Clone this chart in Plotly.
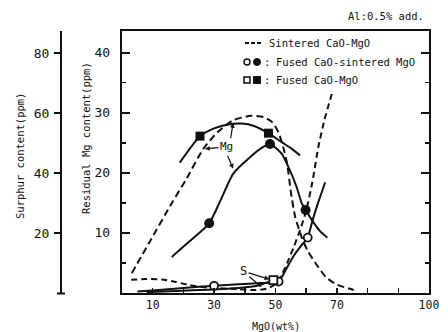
import plotly.graph_objects as go

# ---------------- data ----------------
# Residual Mg (left inner axis, ppm) vs MgO (wt%)
sint_mg_x = [3.2, 9, 16.5, 21, 26.5, 31, 36, 42, 46, 49, 51, 52.5, 53.8, 55, 56.4, 58.5, 60.5, 63, 66.5, 70, 75.5]
sint_mg_y = [3.3, 8.5, 15.2, 19.0, 24.0, 26.7, 28.7, 29.5, 29.3, 28.4, 26.7, 24.3, 21.5, 16.8, 12.7, 9.3, 7.0, 5.0, 2.6, 1.4, 0.5]

fm_mg_x = [18.8, 25.4, 30, 35, 39, 43, 47.7, 52, 55, 58]
fm_mg_y = [21.7, 26.1, 27.4, 28.1, 28.2, 27.8, 26.6, 25.1, 24.1, 22.9]
fm_mg_pts_x = [25.4, 47.7]
fm_mg_pts_y = [26.1, 26.6]

fs_mg_x = [16.2, 22, 28.4, 31.9, 36.3, 41.7, 46, 48.2, 52, 54.7, 56.9, 58.5, 59.8, 62.3, 64.5, 66.9]
fs_mg_y = [6.0, 8.6, 11.6, 15.2, 19.9, 22.6, 24.3, 24.8, 23.2, 20.4, 17.6, 15.0, 13.8, 11.8, 10.3, 9.2]
fs_mg_pts_x = [28.4, 48.2, 59.8]
fs_mg_pts_y = [11.6, 24.8, 13.8]

# Sulphur (outer axis, ppm)
sint_s_x = [3, 8, 13, 17.5, 22, 28, 33, 38, 43, 47, 50, 52, 54, 56, 58, 60, 62, 64, 66, 68.5]
sint_s_y = [4.4, 4.7, 4.5, 3.7, 2.6, 1.8, 1.5, 1.3, 1.0, 1.4, 3.0, 6.0, 10.5, 15.5, 21.0, 27.5, 37.0, 49.0, 58.0, 67.0]

fs_s_x = [5, 12, 20, 30, 38, 45, 51, 53.5, 56, 58.5, 60.5, 62, 64, 66.2]
fs_s_y = [0.5, 1.0, 1.7, 2.4, 2.9, 3.3, 3.8, 8.0, 12.5, 16.0, 18.5, 24.0, 30.5, 37.0]
fs_s_pts_x = [30, 51, 60.5]
fs_s_pts_y = [2.4, 3.8, 18.5]

fm_s_x = [8, 18, 28, 38, 44, 49.3]
fm_s_y = [0.3, 0.7, 1.1, 1.7, 2.4, 4.3]
fm_s_pts_x = [49.3]
fm_s_pts_y = [4.3]

x_ticks = [10, 30, 50, 70, 100]
x_minor = [20, 40, 60, 80, 90]
mg_ticks = [10, 20, 30, 40]
mg_minor = [5, 15, 25, 35]
s_ticks = [20, 40, 60, 80]

legend_rows = ["Sintered CaO-MgO", "Fused CaO-sintered MgO", "Fused CaO-MgO"]

# ---------------- layout helpers ----------------
W, H = 448, 332
L_PX, R_PX, T_PX, B_PX = 122, 429, 31, 293
FONT = "DejaVu Sans Mono"
INK = "#111111"


def pxx(p):
    return p / W


def pxy(p):
    return (B_PX - p) / (B_PX - T_PX)


fig = go.Figure()

DASH = "7px,4px"
line_kw = dict(color=INK, width=2, shape="spline", smoothing=0.6)

fig.add_trace(go.Scatter(x=sint_mg_x, y=sint_mg_y, mode="lines",
                         line=dict(**line_kw, dash=DASH), hoverinfo="skip"))
fig.add_trace(go.Scatter(x=fm_mg_x, y=fm_mg_y, mode="lines",
                         line=dict(**line_kw), hoverinfo="skip"))
fig.add_trace(go.Scatter(x=fs_mg_x, y=fs_mg_y, mode="lines",
                         line=dict(**line_kw), hoverinfo="skip"))
fig.add_trace(go.Scatter(x=sint_s_x, y=sint_s_y, mode="lines", yaxis="y2",
                         line=dict(**line_kw, dash="6px,4px"), hoverinfo="skip"))
fig.add_trace(go.Scatter(x=fs_s_x, y=fs_s_y, mode="lines", yaxis="y2",
                         line=dict(**line_kw), hoverinfo="skip"))
fig.add_trace(go.Scatter(x=fm_s_x, y=fm_s_y, mode="lines", yaxis="y2",
                         line=dict(**line_kw), hoverinfo="skip"))

# markers
fig.add_trace(go.Scatter(x=fm_mg_pts_x, y=fm_mg_pts_y, mode="markers",
                         marker=dict(symbol="square", size=9, color=INK), hoverinfo="skip"))
fig.add_trace(go.Scatter(x=fs_mg_pts_x, y=fs_mg_pts_y, mode="markers",
                         marker=dict(symbol="circle", size=10, color=INK), hoverinfo="skip"))
fig.add_trace(go.Scatter(x=fs_s_pts_x, y=fs_s_pts_y, mode="markers", yaxis="y2",
                         marker=dict(symbol="circle", size=8, color="white",
                                     line=dict(color=INK, width=1.8)), hoverinfo="skip"))
fig.add_trace(go.Scatter(x=fm_s_pts_x, y=fm_s_pts_y, mode="markers", yaxis="y2",
                         marker=dict(symbol="square", size=8, color="white",
                                     line=dict(color=INK, width=1.8)), hoverinfo="skip"))


def txt(text, x, y, size=10.5, xanchor="center", angle=0):
    return dict(text=text, x=pxx(x), y=pxy(y), xref="paper", yref="paper",
                xanchor=xanchor, yanchor="middle", textangle=angle, showarrow=False,
                font=dict(family=FONT, size=size, color=INK))


ann = []
# axis titles
ann.append(txt("Surphur content(ppm)", 20, 156, angle=-90))
ann.append(txt("Residual Mg content(ppm)", 86, 138, angle=-90))
ann.append(txt("MgO(wt%)", 276, 326, size=10))
ann.append(txt("Al:0.5% add.", 386, 16))

# legend texts
ann.append(txt(legend_rows[0], 267, 43, xanchor="left"))
ann.append(txt(legend_rows[1], 274, 62, xanchor="left"))
ann.append(txt(legend_rows[2], 274, 80, xanchor="left"))
for yy in (62, 80):
    ann.append(txt(":", 267, yy))

# in-plot labels with arrows
arrow_kw = dict(xref="x", yref="y", axref="x", ayref="y", showarrow=True, arrowhead=2,
                arrowsize=0.8, arrowwidth=1.2, arrowcolor=INK, xanchor="center",
                yanchor="middle")
ann.append(dict(text="Mg", x=27.0, y=24.0, ax=34.0, ay=24.3,
                font=dict(family=FONT, size=11, color=INK), **arrow_kw))
ann.append(dict(text="", x=36.2, y=20.7, ax=34.2, ay=23.1, **arrow_kw))
ann.append(dict(text="", x=36.2, y=28.3, ax=35.3, ay=25.5, **arrow_kw))
ann.append(dict(text="S", x=48.0, y=2.3, ax=39.6, ay=3.6,
                font=dict(family=FONT, size=12, color=INK), **arrow_kw))
ann.append(dict(text="", x=45.5, y=1.0, ax=41.0, ay=2.9, **arrow_kw))

shapes = []
# legend symbols
shapes.append(dict(type="line", xref="paper", yref="paper", x0=pxx(245), x1=pxx(261),
                   y0=pxy(43), y1=pxy(43), line=dict(color=INK, width=1.8, dash="4px,2px")))
shapes.append(dict(type="circle", xref="paper", yref="paper", x0=pxx(244), x1=pxx(250),
                   y0=pxy(65), y1=pxy(59), line=dict(color=INK, width=1.5), fillcolor="white"))
shapes.append(dict(type="circle", xref="paper", yref="paper", x0=pxx(253.5), x1=pxx(260.5),
                   y0=pxy(65.5), y1=pxy(58.5), line=dict(color=INK, width=1), fillcolor=INK))
shapes.append(dict(type="rect", xref="paper", yref="paper", x0=pxx(244), x1=pxx(250),
                   y0=pxy(83), y1=pxy(77), line=dict(color=INK, width=1.5), fillcolor="white"))
shapes.append(dict(type="rect", xref="paper", yref="paper", x0=pxx(253.5), x1=pxx(260.5),
                   y0=pxy(83.5), y1=pxy(76.5), line=dict(color=INK, width=1), fillcolor=INK))
# foot cap of the sulphur axis
shapes.append(dict(type="line", xref="paper", yref="paper", x0=pxx(57), x1=pxx(65),
                   y0=pxy(293.5), y1=pxy(293.5), line=dict(color=INK, width=2)))

fig.update_layout(
    template="none",
    width=W, height=H,
    margin=dict(l=0, r=0, t=T_PX, b=H - B_PX, pad=0),
    paper_bgcolor="white", plot_bgcolor="white",
    showlegend=False,
    xaxis=dict(domain=[L_PX / W, R_PX / W], range=[0, 100], tickvals=x_ticks,
               ticks="inside", ticklen=5, tickwidth=1.5, tickcolor=INK,
               showline=True, linewidth=2.2, linecolor=INK, mirror=True,
               showgrid=False, zeroline=False, automargin=False,
               tickfont=dict(family=FONT, size=11.5, color=INK), ticklabelstandoff=0,
               minor=dict(tickvals=x_minor, ticks="inside", ticklen=5, tickwidth=1.5,
                          tickcolor=INK, showgrid=False)),
    yaxis=dict(range=[0, 43.6], tickvals=mg_ticks, ticks="inside", ticklen=8, tickwidth=2,
               tickcolor=INK, showline=True, linewidth=2.2, linecolor=INK, mirror="ticks",
               showgrid=False, zeroline=False, automargin=False,
               tickfont=dict(family=FONT, size=13, color=INK), ticklabelstandoff=7,
               minor=dict(tickvals=mg_minor, ticks="inside", ticklen=4, tickwidth=1.5,
                          tickcolor=INK, showgrid=False)),
    yaxis2=dict(range=[0, 87.5], overlaying="y", anchor="free", position=61 / W, side="left",
                tickvals=s_ticks, ticks="outside", ticklen=6, tickwidth=2, tickcolor=INK,
                showline=True, linewidth=2.2, linecolor=INK, showgrid=False, zeroline=False,
                automargin=False, tickfont=dict(family=FONT, size=13, color=INK),
                ticklabelstandoff=2),
    annotations=ann,
    shapes=shapes,
)

fig.write_html("out.html", config={"displayModeBar": False, "staticPlot": True},
               post_script="document.body.style.margin='0';document.body.style.padding='0';")
